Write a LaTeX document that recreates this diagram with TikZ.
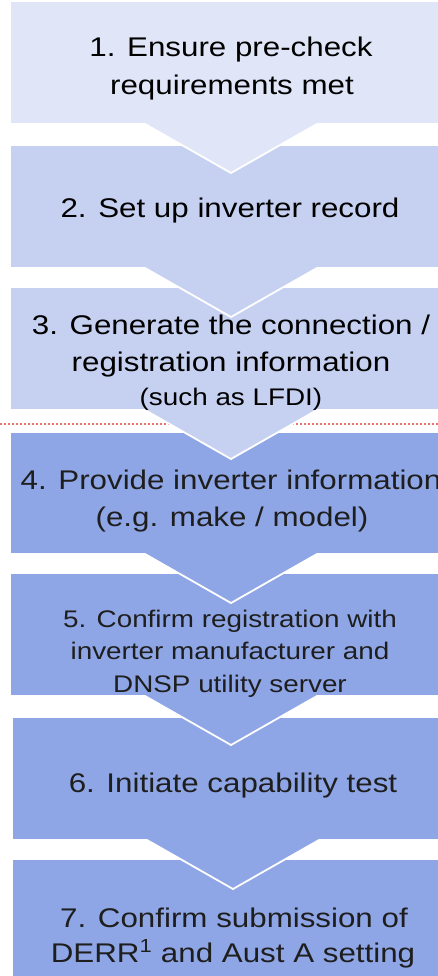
\documentclass[tikz,border=0pt]{standalone}
\usepackage{fontspec}
\setmainfont{Liberation Sans}[FakeStretch=1.16]
\definecolor{boxA}{HTML}{E0E6F7}
\definecolor{boxB}{HTML}{C6D1F1}
\definecolor{boxC}{HTML}{8FA6E6}
\definecolor{txtdark}{HTML}{1E1E1E}
\definecolor{dotred}{HTML}{F07070}
\newcommand\stepshape[4]{% #1 top, #2 bottom, #3 dx, #4 colour
  \path[shapestyle, fill=#4]
    (10+#3,#1) -- (455,#1) -- (455,#2) -- (317+#3,#2) -- (231+#3,#2+49)
    -- (145+#3,#2) -- (10+#3,#2) -- cycle;}
\tikzset{
  shapestyle/.style={draw=white, line width=1.8pt, line join=miter},
  big/.style={font=\fontsize{27}{37}\selectfont, anchor=base, inner sep=0pt},
  small/.style={font=\fontsize{24}{32}\selectfont, anchor=base, inner sep=0pt},
  divider/.style={dotred, line width=2pt, dash pattern=on 2pt off 2pt}
}
\begin{document}
\begin{tikzpicture}[x=1pt,y=-1pt]
\useasboundingbox (0,0) rectangle (438,976);
\clip (0,0) rectangle (438,976);
% divider line
\coordinate (dl) at (0,424);
\coordinate (dr) at (438,424);
\draw[divider] (dl) -- (dr);
% shapes, bottom to top so each chevron overlaps the next box
\stepshape{859}{990}{2}{boxC}
\stepshape{717}{840}{2}{boxC}
\stepshape{573}{696}{0}{boxC}
\stepshape{432}{554}{0}{boxC}
\stepshape{287}{410}{0}{boxB}
\stepshape{145}{268}{0}{boxB}
\stepshape{1}{124}{0}{boxA}
% texts
\node[big] (t1a) at (231,57) {1. Ensure pre-check};
\node[big] (t1b) at (232,95) {requirements met};
\node[big] (t2) at (230,218) {2. Set up inverter record};
\node[big] (t3a) at (231,334) {3. Generate the connection /};
\node[big] (t3b) at (231,371) {registration information};
\node[small] (t3c) at (231,405) {(such as LFDI)};
\node[big, text=txtdark] (t4a) at (231,489) {4. Provide inverter information};
\node[big, text=txtdark] (t4b) at (232,526) {(e.g. make / model)};
\node[small, text=txtdark] (t5a) at (230,627) {5. Confirm registration with};
\node[small, text=txtdark] (t5b) at (230,659) {inverter manufacturer and};
\node[small, text=txtdark] (t5c) at (230,692) {DNSP utility server};
\node[big, text=txtdark] (t6) at (233,792) {6. Initiate capability test};
\node[big, text=txtdark] (t7a) at (234,927) {7. Confirm submission of};
\node[big, text=txtdark] (t7b) at (233,962) {DERR\textsuperscript{1} and Aust A setting};
\end{tikzpicture}
\end{document}
